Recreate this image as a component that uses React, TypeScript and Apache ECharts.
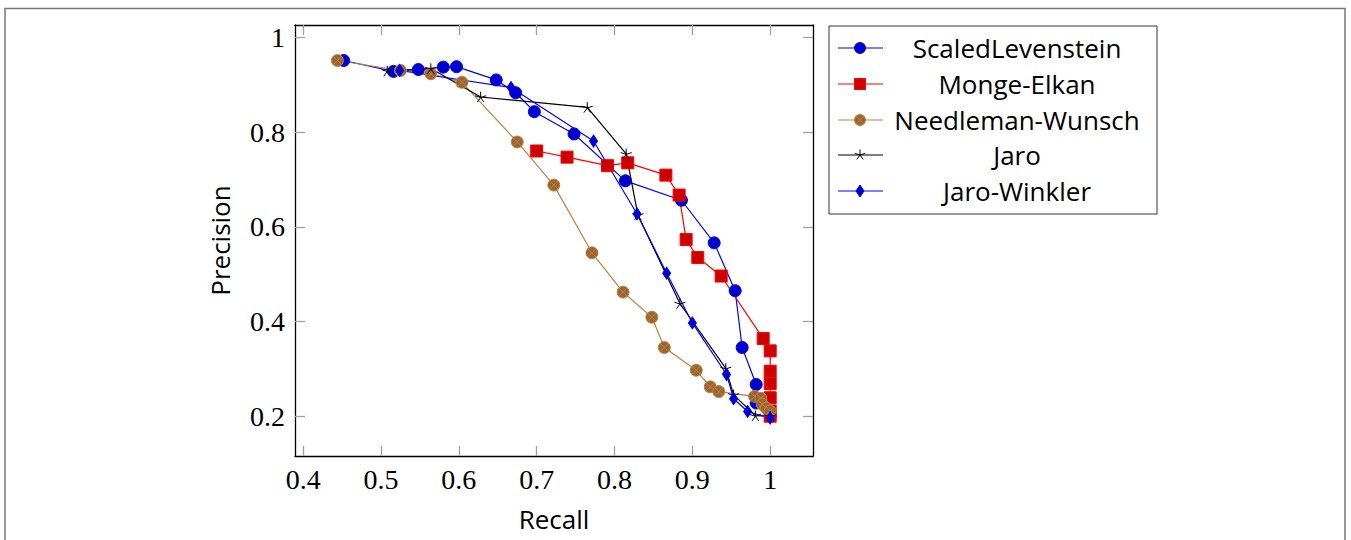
import React, { useEffect, useRef } from "react";
import * as echarts from "echarts";

// ---- data (recall, precision) ----
const scaledLevenstein: number[][] = [
  [0.452, 0.951], [0.516, 0.928], [0.548, 0.932], [0.58, 0.937], [0.597, 0.938],
  [0.648, 0.91], [0.673, 0.883], [0.697, 0.843], [0.748, 0.796], [0.814, 0.697],
  [0.886, 0.656], [0.928, 0.566], [0.955, 0.465], [0.964, 0.345], [0.982, 0.267],
  [0.982, 0.228], [1.0, 0.2],
];
const mongeElkan: number[][] = [
  [0.7, 0.76], [0.739, 0.747], [0.791, 0.729], [0.817, 0.735], [0.866, 0.709],
  [0.883, 0.667], [0.892, 0.573], [0.907, 0.535], [0.937, 0.496], [0.991, 0.364],
  [1.0, 0.338], [1.0, 0.295], [1.0, 0.269], [1.0, 0.239], [1.0, 0.211], [1.0, 0.2],
];
const needlemanWunsch: number[][] = [
  [0.444, 0.951], [0.525, 0.93], [0.564, 0.923], [0.604, 0.905], [0.675, 0.779],
  [0.722, 0.688], [0.771, 0.545], [0.811, 0.462], [0.848, 0.409], [0.864, 0.345],
  [0.905, 0.297], [0.923, 0.262], [0.934, 0.252], [0.98, 0.242], [0.988, 0.238],
  [0.99, 0.225], [0.995, 0.217], [1.0, 0.211],
];
const jaro: number[][] = [
  [0.508, 0.929], [0.564, 0.934], [0.628, 0.874], [0.765, 0.852], [0.815, 0.754],
  [0.83, 0.625], [0.884, 0.438], [0.943, 0.301], [0.953, 0.245], [0.981, 0.201],
  [1.0, 0.2],
];
const jaroWinkler: number[][] = [
  [0.524, 0.93], [0.667, 0.894], [0.773, 0.781], [0.829, 0.627], [0.867, 0.502],
  [0.9, 0.397], [0.944, 0.288], [0.953, 0.237], [0.971, 0.21], [1.0, 0.196],
];

const X_TICKS = [0.4, 0.5, 0.6, 0.7, 0.8, 0.9, 1];
const Y_TICKS = [0.2, 0.4, 0.6, 0.8, 1];
const SERIES_NAMES = ["ScaledLevenstein", "Monge-Elkan", "Needleman-Wunsch", "Jaro", "Jaro-Winkler"];

const STAR_PATH =
  "path://M0 -10 L0 0 M9.51 -3.09 L0 0 M5.88 8.09 L0 0 M-5.88 8.09 L0 0 M-9.51 -3.09 L0 0";
const OTIMES_PATH =
  "path://M-10 0 A10 10 0 1 1 10 0 A10 10 0 1 1 -10 0 Z M-7.07 -7.07 L7.07 7.07 M-7.07 7.07 L7.07 -7.07";

const BLUE = "#0000ff";
const BLUE_FILL = "#0000cc";
const RED = "#ff0000";
const RED_FILL = "#cc0000";
const BROWN = "#bf8040";
const BROWN_FILL = "#996633";

const SERIF = "'Liberation Serif', 'DejaVu Serif', serif";
const SANS = "'Open Sans', 'Noto Sans', sans-serif";

function makeSeries(
  name: string,
  data: number[][],
  lineColor: string,
  symbol: string,
  symbolSize: number | number[],
  fill: string,
  border: string
) {
  return {
    type: "line",
    name,
    data,
    symbol,
    symbolSize,
    symbolKeepAspect: true,
    showSymbol: true,
    showAllSymbol: true,
    lineStyle: { color: lineColor, width: 1.2 },
    itemStyle: { color: fill, borderColor: border, borderWidth: 1 },
    emphasis: { disabled: true },
    silent: true,
    clip: false,
  };
}

const GRID = { left: 295, top: 25, width: 518, height: 431 };

function legendGraphics() {
  const left = 829;
  const top = 26;
  const w = 328;
  const h = 188;
  const rows = [48, 84, 120, 155, 191];
  const lx1 = 838;
  const lx2 = 883;
  const mx = 860;
  const textX = 1017;
  const colors = [BLUE, RED, BROWN, "#000", BLUE];
  const els: any[] = [
    {
      type: "rect",
      shape: { x: left, y: top, width: w, height: h },
      style: { fill: "#fff", stroke: "#333", lineWidth: 1 },
      z: 10,
    },
  ];
  rows.forEach((y, i) => {
    els.push({
      type: "line",
      shape: { x1: lx1, y1: y, x2: lx2, y2: y },
      style: { stroke: colors[i], lineWidth: 1.2 },
      z: 11,
    });
    els.push({
      type: "text",
      x: textX,
      y,
      style: {
        text: SERIES_NAMES[i],
        fontSize: 26,
        fontFamily: SANS,
        fill: "#000",
        align: "center",
        verticalAlign: "middle",
      },
      z: 11,
    });
  });
  // markers
  els.push({
    type: "circle",
    shape: { cx: mx, cy: rows[0], r: 5.5 },
    style: { fill: BLUE_FILL, stroke: BLUE, lineWidth: 1 },
    z: 12,
  });
  els.push({
    type: "rect",
    shape: { x: mx - 5.5, y: rows[1] - 5.5, width: 11, height: 11 },
    style: { fill: RED_FILL, stroke: RED, lineWidth: 1 },
    z: 12,
  });
  els.push({
    type: "circle",
    shape: { cx: mx, cy: rows[2], r: 5.5 },
    style: { fill: BROWN_FILL, stroke: BROWN, lineWidth: 1 },
    z: 12,
  });
  const d = 3.9;
  els.push({
    type: "line",
    shape: { x1: mx - d, y1: rows[2] - d, x2: mx + d, y2: rows[2] + d },
    style: { stroke: BROWN, lineWidth: 1 },
    z: 13,
  });
  els.push({
    type: "line",
    shape: { x1: mx - d, y1: rows[2] + d, x2: mx + d, y2: rows[2] - d },
    style: { stroke: BROWN, lineWidth: 1 },
    z: 13,
  });
  // star
  const r = 5.5;
  for (let k = 0; k < 5; k++) {
    const a = -Math.PI / 2 + (k * 2 * Math.PI) / 5;
    els.push({
      type: "line",
      shape: { x1: mx, y1: rows[3], x2: mx + r * Math.cos(a), y2: rows[3] + r * Math.sin(a) },
      style: { stroke: "#000", lineWidth: 1 },
      z: 12,
    });
  }
  els.push({
    type: "polygon",
    shape: {
      points: [
        [mx, rows[4] - 6],
        [mx + 4, rows[4]],
        [mx, rows[4] + 6],
        [mx - 4, rows[4]],
      ],
    },
    style: { fill: BLUE_FILL, stroke: BLUE, lineWidth: 1 },
    z: 12,
  });
  return els;
}

export default function App() {
  const ref = useRef<HTMLDivElement>(null);

  useEffect(() => {
    if (!ref.current) return;
    const chart = echarts.init(ref.current, undefined, { renderer: "svg" });
    const xRange = { min: 0.3895, max: 1.055 };
    const yRange = { min: 0.116, max: 1.026 };
    const tickStyle = { show: true, inside: true, length: 10, lineStyle: { color: "#a0a0a0", width: 1.3 } };
    const axisLine = { show: true, onZero: false, lineStyle: { color: "#000", width: 1.3 } };

    chart.setOption({
      animation: false,
      backgroundColor: "#fff",
      grid: { ...GRID, containLabel: false, outerBoundsMode: "none" },
      xAxis: [
        {
          type: "value",
          position: "bottom",
          ...xRange,
          axisLine,
          axisTick: { ...tickStyle, customValues: X_TICKS },
          axisLabel: {
            customValues: X_TICKS,
            formatter: (v: number) => String(Math.round(v * 10) / 10),
            fontFamily: SERIF,
            fontSize: 28,
            color: "#000",
            margin: 9,
          },
          splitLine: { show: false },
          name: "Recall",
          nameLocation: "middle",
          nameGap: 50,
          nameTextStyle: { fontFamily: SANS, fontSize: 26, color: "#000" },
        },
        {
          type: "value",
          position: "top",
          ...xRange,
          axisLine,
          axisTick: { ...tickStyle, customValues: X_TICKS },
          axisLabel: { show: false },
          splitLine: { show: false },
        },
      ],
      yAxis: [
        {
          type: "value",
          position: "left",
          ...yRange,
          axisLine,
          axisTick: { ...tickStyle, customValues: Y_TICKS },
          axisLabel: {
            customValues: Y_TICKS,
            formatter: (v: number) => String(Math.round(v * 10) / 10),
            fontFamily: SERIF,
            fontSize: 28,
            color: "#000",
            margin: 10,
          },
          splitLine: { show: false },
          name: "Precision",
          nameLocation: "middle",
          nameGap: 62,
          nameRotate: 90,
          nameTextStyle: { fontFamily: SANS, fontSize: 26, color: "#000" },
        },
        {
          type: "value",
          position: "right",
          ...yRange,
          axisLine,
          axisTick: { ...tickStyle, customValues: Y_TICKS },
          axisLabel: { show: false },
          splitLine: { show: false },
        },
      ],
      series: [
        makeSeries(SERIES_NAMES[0], scaledLevenstein, BLUE, "circle", 12, BLUE_FILL, BLUE),
        makeSeries(SERIES_NAMES[1], mongeElkan, RED, "rect", 12, RED_FILL, RED),
        makeSeries(SERIES_NAMES[2], needlemanWunsch, BROWN, OTIMES_PATH, 12, BROWN_FILL, BROWN),
        makeSeries(SERIES_NAMES[3], jaro, "#000", STAR_PATH, 11, "none", "#000"),
        makeSeries(SERIES_NAMES[4], jaroWinkler, BLUE, "diamond", [8, 12], BLUE_FILL, BLUE),
      ],
      graphic: [
        {
          type: "rect",
          shape: { x: 5, y: 8.5, width: 1340, height: 600 },
          style: { fill: "none", stroke: "#777", lineWidth: 1.5 },
          z: 1,
          silent: true,
        },
        ...legendGraphics(),
      ],
    });
    return () => chart.dispose();
  }, []);

  return (
    <div
      ref={ref}
      style={{ position: "fixed", left: 0, top: 0, width: 1351, height: 540, background: "#fff" }}
    />
  );
}
